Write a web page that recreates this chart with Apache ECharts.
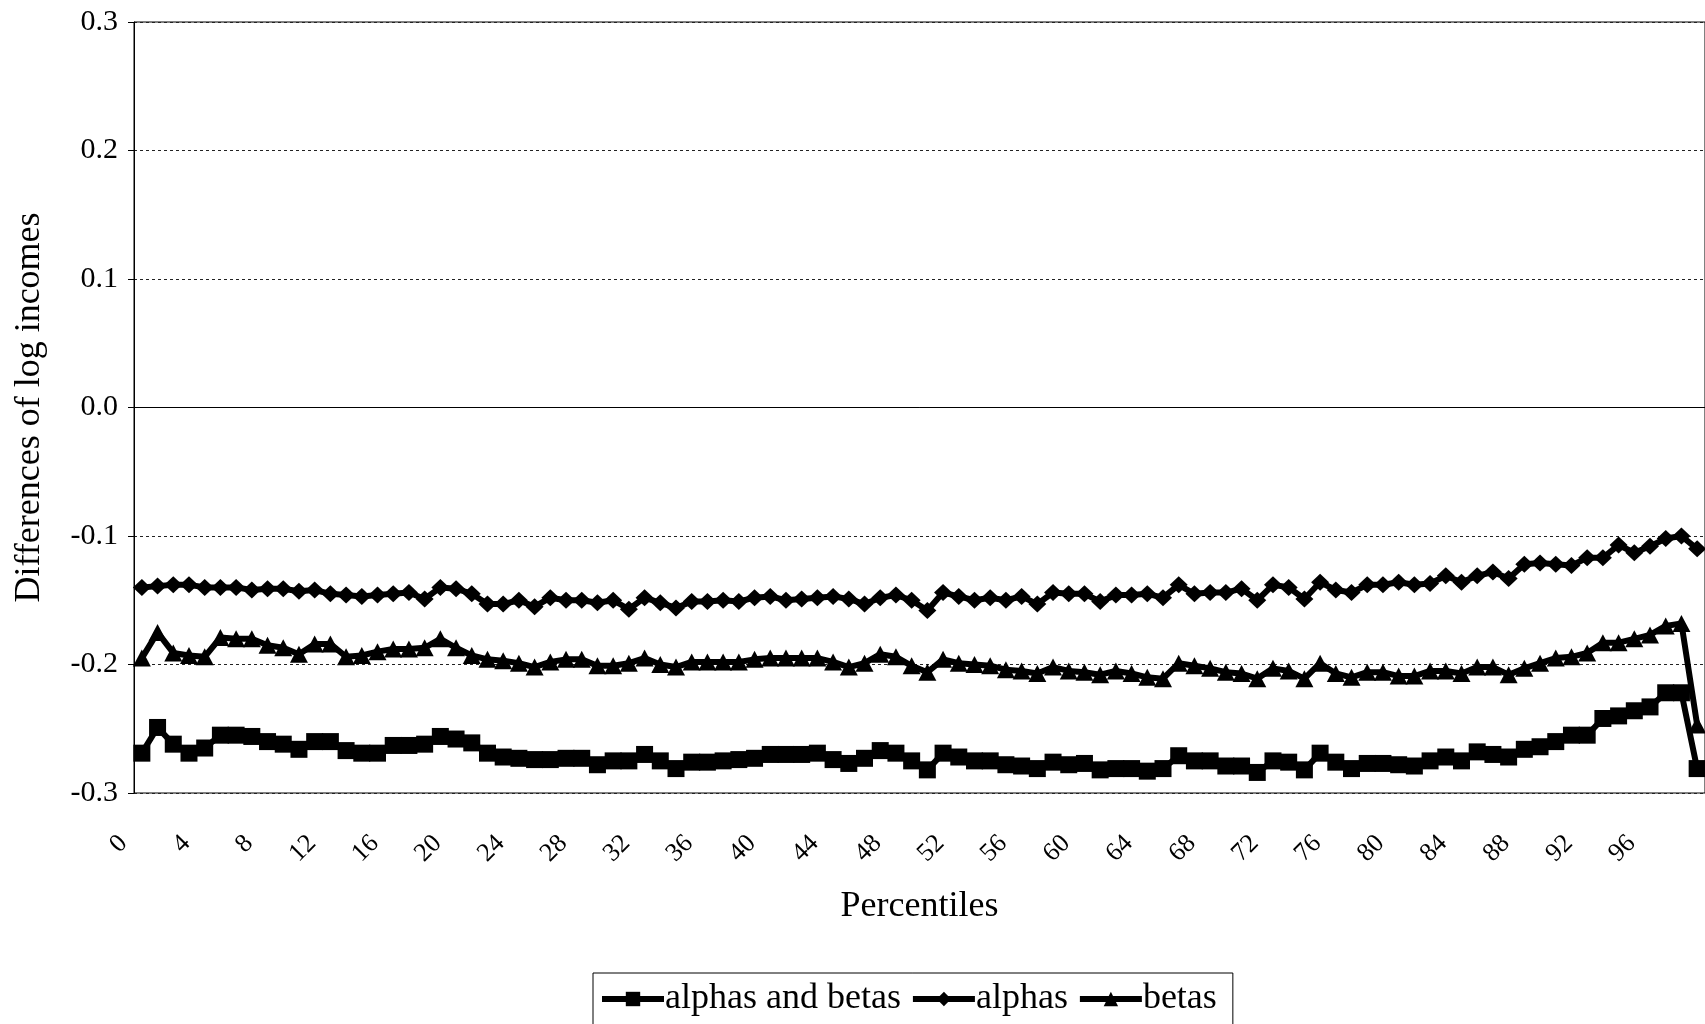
<!DOCTYPE html>
<html>
<head>
<meta charset="utf-8">
<title>Differences of log incomes by percentile</title>
<script src="https://cdn.jsdelivr.net/npm/echarts@6/dist/echarts.min.js"></script>
<style>
  html, body { margin: 0; padding: 0; background: #fff; }
  #chart { width: 1705px; height: 1024px; }
</style>
</head>
<body>
<div id="chart"></div>
<script>
// Percentile categories 0..99, labelled every fourth one
const percentiles = Array.from({ length: 100 }, (_, i) => String(i));

const alphasAndBetas = [
  -0.269, -0.249, -0.262, -0.269, -0.265, -0.255, -0.255, -0.256, -0.260, -0.262,
  -0.266, -0.260, -0.260, -0.267, -0.269, -0.269, -0.263, -0.263, -0.262, -0.256,
  -0.258, -0.261, -0.269, -0.272, -0.273, -0.274, -0.274, -0.273, -0.273, -0.278,
  -0.275, -0.275, -0.270, -0.275, -0.281, -0.276, -0.276, -0.275, -0.274, -0.273,
  -0.270, -0.270, -0.270, -0.269, -0.274, -0.277, -0.273, -0.267, -0.269, -0.275,
  -0.282, -0.269, -0.272, -0.275, -0.275, -0.278, -0.279, -0.281, -0.276, -0.278,
  -0.277, -0.282, -0.281, -0.281, -0.283, -0.281, -0.271, -0.275, -0.275, -0.279,
  -0.279, -0.284, -0.275, -0.276, -0.282, -0.269, -0.276, -0.281, -0.277, -0.277,
  -0.278, -0.279, -0.275, -0.272, -0.275, -0.268, -0.270, -0.272, -0.266, -0.264,
  -0.260, -0.255, -0.255, -0.242, -0.240, -0.236, -0.233, -0.222, -0.222, -0.281
];

const alphas = [
  -0.140, -0.139, -0.138, -0.138, -0.140, -0.140, -0.140, -0.142, -0.141, -0.141,
  -0.143, -0.142, -0.145, -0.146, -0.147, -0.146, -0.145, -0.144, -0.149, -0.140,
  -0.141, -0.145, -0.153, -0.153, -0.150, -0.155, -0.148, -0.150, -0.150, -0.152,
  -0.150, -0.157, -0.148, -0.152, -0.156, -0.151, -0.151, -0.150, -0.151, -0.148,
  -0.147, -0.150, -0.149, -0.148, -0.147, -0.149, -0.153, -0.148, -0.146, -0.150,
  -0.158, -0.144, -0.147, -0.150, -0.148, -0.150, -0.147, -0.153, -0.144, -0.145,
  -0.145, -0.151, -0.146, -0.146, -0.145, -0.148, -0.138, -0.145, -0.144, -0.144,
  -0.141, -0.150, -0.138, -0.140, -0.149, -0.136, -0.142, -0.144, -0.138, -0.138,
  -0.136, -0.138, -0.137, -0.131, -0.136, -0.131, -0.128, -0.133, -0.122, -0.121,
  -0.122, -0.123, -0.117, -0.117, -0.107, -0.113, -0.108, -0.102, -0.100, -0.110
];

const betas = [
  -0.195, -0.175, -0.191, -0.193, -0.194, -0.179, -0.180, -0.180, -0.185, -0.187,
  -0.192, -0.184, -0.184, -0.194, -0.193, -0.190, -0.188, -0.188, -0.187, -0.180,
  -0.187, -0.193, -0.196, -0.197, -0.199, -0.202, -0.198, -0.196, -0.196, -0.201,
  -0.201, -0.199, -0.195, -0.200, -0.202, -0.198, -0.198, -0.198, -0.198, -0.196,
  -0.195, -0.195, -0.195, -0.195, -0.198, -0.202, -0.199, -0.192, -0.194, -0.201,
  -0.206, -0.196, -0.199, -0.200, -0.201, -0.204, -0.205, -0.207, -0.202, -0.205,
  -0.206, -0.208, -0.205, -0.207, -0.210, -0.211, -0.199, -0.201, -0.203, -0.206,
  -0.207, -0.211, -0.203, -0.205, -0.211, -0.199, -0.207, -0.210, -0.206, -0.206,
  -0.209, -0.209, -0.205, -0.205, -0.207, -0.202, -0.202, -0.208, -0.203, -0.199,
  -0.195, -0.194, -0.191, -0.183, -0.183, -0.180, -0.177, -0.170, -0.168, -0.247
];

const yTicks = { min: -0.3, max: 0.3, step: 0.1 };

const FONT = "'Liberation Serif', 'Times New Roman', serif";
const INK = '#000';

function lineSeries(name, data, symbol, size) {
  return {
    name: name,
    type: 'line',
    data: data,
    symbol: symbol,
    symbolSize: size,
    showAllSymbol: true,
    lineStyle: { color: INK, width: 6 },
    itemStyle: { color: INK, borderColor: INK, borderWidth: 0 },
    emphasis: { disabled: true },
    z: 3
  };
}

const series = [
  lineSeries('alphas and betas', alphasAndBetas, 'rect', [17, 17]),
  lineSeries('alphas', alphas, 'diamond', [18, 17]),
  lineSeries('betas', betas, 'triangle', [18, 17])
];

// solid reference line along zero
series[1].markLine = {
  silent: true,
  symbol: 'none',
  label: { show: false },
  lineStyle: { color: INK, type: 'solid', width: 1 },
  data: [{ yAxis: 0 }],
  z: 1
};

const chart = echarts.init(document.getElementById('chart'), null, { renderer: 'canvas' });

chart.setOption({
  animation: false,
  backgroundColor: '#fff',
  textStyle: { fontFamily: FONT, color: INK },
  grid: {
    left: 134,
    right: -2,
    top: 22,
    bottom: 231,
    show: true,
    borderColor: INK,
    borderWidth: 1,
    backgroundColor: 'transparent'
  },
  legend: {
    left: 593,
    top: 973,
    orient: 'horizontal',
    padding: [8, 16, 12, 6],
    itemGap: 9,
    itemWidth: 62,
    itemHeight: 18,
    borderColor: INK,
    borderWidth: 1,
    backgroundColor: '#fff',
    selectedMode: false,
    lineStyle: { width: 6, color: INK },
    itemStyle: { color: INK },
    textStyle: { fontFamily: FONT, fontSize: 36, color: INK, padding: [0, 0, 0, -4] },
    data: ['alphas and betas', 'alphas', 'betas']
  },
  xAxis: {
    type: 'category',
    data: percentiles,
    boundaryGap: true,
    name: 'Percentiles',
    nameLocation: 'middle',
    nameGap: 96,
    nameTextStyle: { fontFamily: FONT, fontSize: 36, color: INK },
    axisLine: { show: true, lineStyle: { color: INK, width: 1 } },
    axisTick: { show: false },
    axisLabel: {
      interval: 3,
      rotate: 45,
      margin: 28,
      fontFamily: FONT,
      fontSize: 26,
      color: INK,
      padding: [0, 26, 0, 0]
    },
    splitLine: { show: false }
  },
  yAxis: {
    type: 'value',
    min: yTicks.min,
    max: yTicks.max,
    interval: yTicks.step,
    name: 'Differences of log incomes',
    nameLocation: 'middle',
    nameRotate: 90,
    nameGap: 86,
    nameTextStyle: { fontFamily: FONT, fontSize: 36, color: INK },
    axisLine: { show: true, lineStyle: { color: INK, width: 1 } },
    axisTick: { show: true, length: 6, lineStyle: { color: INK } },
    axisLabel: {
      margin: 16,
      fontFamily: FONT,
      fontSize: 30,
      color: INK,
      formatter: v => v.toFixed(1)
    },
    splitLine: { show: true, lineStyle: { color: '#222', type: [3, 3], width: 1 } }
  },
  series: series
});
</script>
</body>
</html>
